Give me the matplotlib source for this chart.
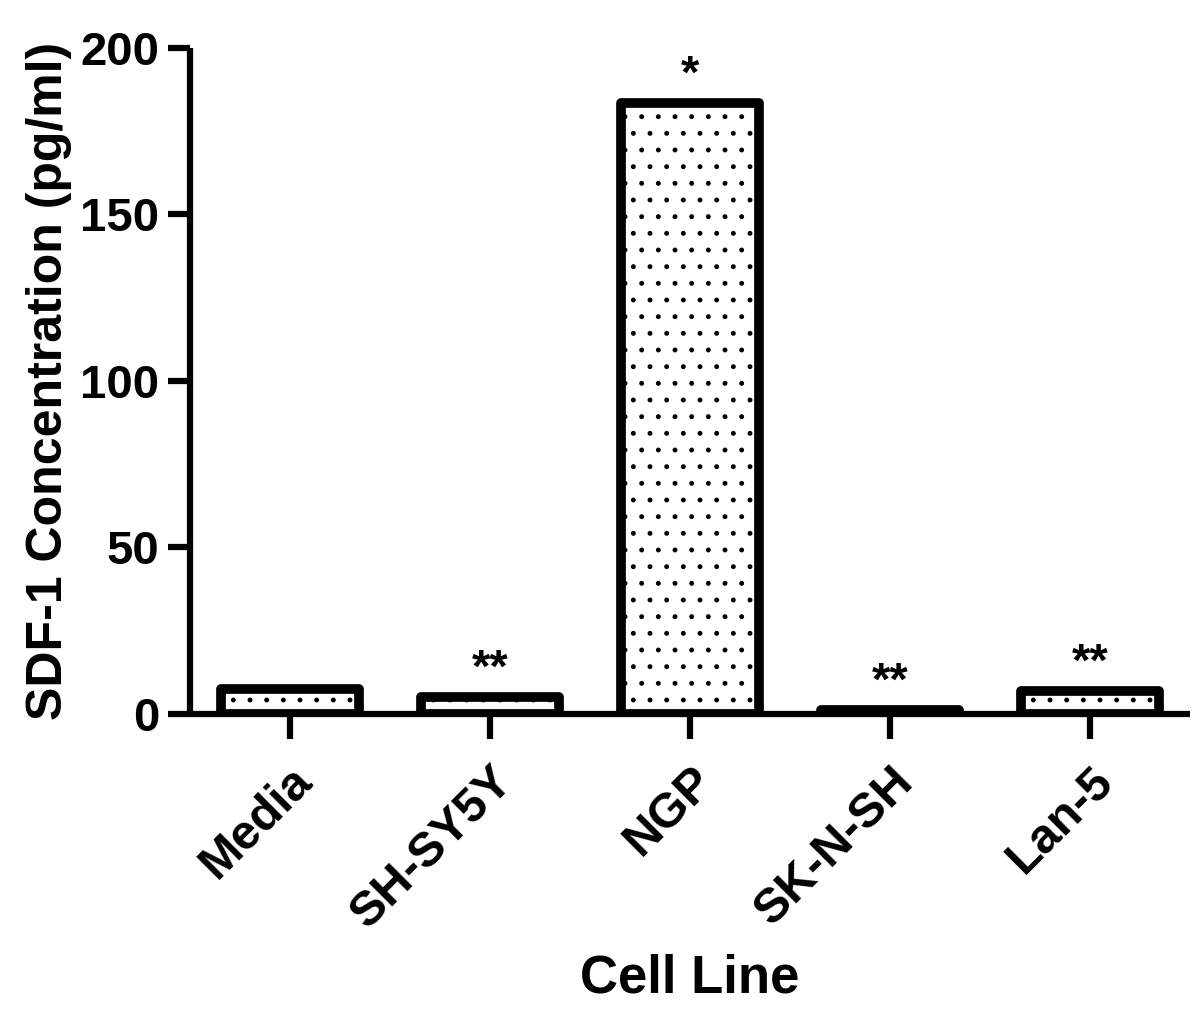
import matplotlib.pyplot as plt

plt.rcParams["font.family"] = ["Liberation Sans", "DejaVu Sans"]
plt.rcParams["font.weight"] = "bold"
plt.rcParams["hatch.linewidth"] = 1.1

cell_lines = ["Media", "SH-SY5Y", "NGP", "SK-N-SH", "Lan-5"]
sdf1_conc = [7.5, 5.0, 183.5, 1.2, 7.0]
stars = ["", "**", "*", "**", "**"]

fig = plt.figure(figsize=(12, 10.14), dpi=100)
ax = fig.add_axes([0.158, 0.296, 0.834, 0.657])

x = list(range(len(cell_lines)))
bars = ax.bar(x, sdf1_conc, width=0.69, color="white", edgecolor="black",
              linewidth=7, hatch=".", joinstyle="round", zorder=3)

for xi, val, s in zip(x, sdf1_conc, stars):
    if s:
        ax.text(xi, val + 1.5, s, ha="center", va="bottom", fontsize=34,
                fontweight="bold")

ax.set_xlim(-0.5, 4.5)
ax.set_ylim(0, 200)
ax.set_yticks([0, 50, 100, 150, 200])
ax.set_xticks(x)
ax.set_xticklabels(cell_lines, rotation=45, ha="right", rotation_mode="anchor")

for side in ["top", "right"]:
    ax.spines[side].set_visible(False)
for side in ["left", "bottom"]:
    ax.spines[side].set_linewidth(4.5)
    ax.spines[side].set_capstyle("butt")

ax.tick_params(axis="both", width=4.5, length=16, direction="out")
ax.tick_params(axis="x", length=18, pad=14, labelsize=35)
ax.tick_params(axis="y", pad=6, labelsize=34)
for lab in ax.get_xticklabels() + ax.get_yticklabels():
    lab.set_fontweight("bold")

ax.set_ylabel("SDF-1 Concentration (pg/ml)", fontsize=36, fontweight="bold", labelpad=6)
ax.set_xlabel("Cell Line", fontsize=38, fontweight="bold", labelpad=12)

fig.savefig("out.png", dpi=100)
